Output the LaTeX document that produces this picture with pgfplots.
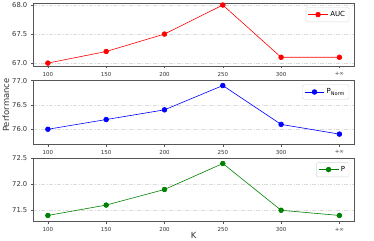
\documentclass[border=0pt]{standalone}
\usepackage{pgfplots}
\pgfplotsset{compat=1.18}
\usepackage{fontspec}
\setmainfont{DejaVu Sans}
\definecolor{mplgreen}{HTML}{008000}
\definecolor{spine}{HTML}{555555}
\pgfplotsset{
  perf/.style={
    scale only axis, width=320.7bp,
    xmin=-0.25, xmax=5.25,
    xtick={0,1,2,3,4,5},
    xticklabels={100,150,200,250,300,+∞},
    /pgf/number format/assume math mode=true,
    /pgf/number format/fixed, /pgf/number format/fixed zerofill, /pgf/number format/precision=1,
    x tick label style={font=\fontsize{5.5}{6}\selectfont, text=black!80},
    y tick label style={font=\fontsize{6.8}{7}\selectfont, text=black!80},
    axis line style={spine, line width=0.6pt},
    tick style={spine, line width=0.5pt},
    tick align=outside, major tick length=2.5bp,
    xtick pos=bottom, ytick pos=left,
    ymajorgrids, major grid style={gray!28, line width=0.5pt, dash pattern=on 4pt off 1.5pt on 1pt off 1.5pt},
    legend style={font=\fontsize{7}{8}\selectfont, draw=gray!30, rounded corners=1.5pt, inner xsep=2pt, inner ysep=2pt, at={(0.985,0.94)}, anchor=north east, legend cell align=left},
    legend image code/.code={\draw[mark=none] (0cm,0cm) -- (0.7cm,0cm); \draw plot[only marks] coordinates {(0.35cm,0cm)};},
    every axis plot/.append style={line width=0.6pt, mark=*, mark size=2.4pt},
  }
}
\begin{document}
\begin{tikzpicture}[x=1bp,y=1bp]
\path[use as bounding box] (0,0) rectangle (374,241);
\begin{axis}[perf, at={(33.3bp,175bp)}, anchor=south west, height=62.7bp,
  ymin=66.95, ymax=68.03, ytick={67.0,67.5,68.0}]
\addplot[red, mark options={fill=red}] coordinates {(0,67.0) (1,67.2) (2,67.5) (3,68.0) (4,67.1) (5,67.1)};
\addlegendentry{AUC}
\end{axis}
\begin{axis}[perf, at={(33.3bp,96.7bp)}, anchor=south west, height=63.6bp,
  ymin=75.69, ymax=77.0, ytick={76.0,76.5,77.0}]
\addplot[blue, mark options={fill=blue}] coordinates {(0,76.0) (1,76.2) (2,76.4) (3,76.9) (4,76.1) (5,75.9)};
\addlegendentry{P\textsubscript{Norm}}
\end{axis}
\begin{axis}[perf, at={(33.3bp,19.3bp)}, anchor=south west, height=63.4bp,
  ymin=71.28, ymax=72.5, ytick={71.5,72.0,72.5},
  xlabel={K}, xlabel style={font=\fontsize{8.5}{9}\selectfont, text=black!80, yshift=6.5bp}]
\addplot[mplgreen, mark options={fill=mplgreen}] coordinates {(0,71.4) (1,71.6) (2,71.9) (3,72.4) (4,71.5) (5,71.4)};
\addlegendentry{P}
\end{axis}
\node[rotate=90, font=\fontsize{8.5}{9}\selectfont, text=black!80] at (6,136) {Performance};
\end{tikzpicture}
\end{document}
